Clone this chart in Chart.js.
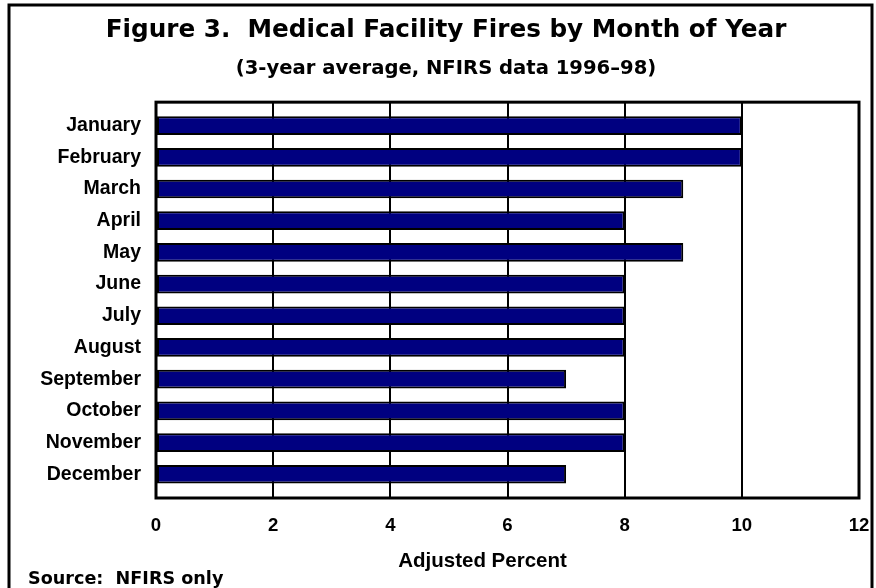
<!DOCTYPE html>
<html>
<head>
<meta charset="utf-8">
<script src="https://cdn.jsdelivr.net/npm/chart.js@4/dist/chart.umd.min.js"></script>
<style>
html,body{margin:0;padding:0;background:#fff;}
#wrap{width:876px;height:588px;position:relative;}
</style>
</head>
<body>
<div id="wrap"><canvas id="c" width="876" height="588"></canvas></div>
<script>
// ---- data ----
const months = ['January','February','March','April','May','June','July','August','September','October','November','December'];
const adjustedPercent = [10, 10, 9, 8, 9, 8, 8, 8, 7, 8, 8, 7];
const xTickValues = [0, 2, 4, 6, 8, 10, 12];
const titleText = 'Figure 3.  Medical Facility Fires by Month of Year';
const subtitleText = '(3-year average, NFIRS data 1996\u201398)';
const xAxisTitle = 'Adjusted Percent';
const sourceNote = 'Source:  NFIRS only';

const FONT = "'Liberation Sans', Arial, Helvetica, sans-serif";
const WIDE = "'DejaVu Sans', 'Liberation Sans', Arial, sans-serif";

const framePlugin = {
  id: 'frame',
  beforeDraw(chart) {
    const ctx = chart.ctx;
    ctx.save();
    ctx.fillStyle = '#ffffff';
    ctx.fillRect(0, 0, chart.width, chart.height);
    ctx.restore();
  },
  afterDatasetsDraw(chart) {
    const {ctx, chartArea: a} = chart;
    ctx.save();
    ctx.strokeStyle = '#000';
    ctx.lineWidth = 3;
    ctx.strokeRect(a.left, a.top, a.right - a.left, a.bottom - a.top);
    ctx.restore();
  },
  afterDraw(chart) {
    const ctx = chart.ctx;
    ctx.save();
    // outer frame
    ctx.strokeStyle = '#000';
    ctx.lineWidth = 3;
    ctx.beginPath();
    ctx.moveTo(9, 600);
    ctx.lineTo(9, 5);
    ctx.lineTo(872, 5);
    ctx.lineTo(872, 600);
    ctx.stroke();
    // axis title
    ctx.fillStyle = '#000';
    ctx.font = 'bold 20.5px ' + FONT;
    ctx.textAlign = 'center';
    ctx.textBaseline = 'alphabetic';
    ctx.fillText(xAxisTitle, 482.5, 566.5);
    // source note
    ctx.font = 'bold 17.6px ' + WIDE;
    ctx.textAlign = 'left';
    ctx.fillText(sourceNote, 28, 584);
    ctx.restore();
  }
};

new Chart(document.getElementById('c'), {
  type: 'bar',
  data: {
    labels: months,
    datasets: [{
      label: 'Adjusted Percent',
      data: adjustedPercent,
      backgroundColor: '#000080',
      borderColor: '#000000',
      borderWidth: 2,
      borderSkipped: false,
      barPercentage: 0.59,
      categoryPercentage: 1.0
    }]
  },
  options: {
    indexAxis: 'y',
    responsive: false,
    animation: false,
    devicePixelRatio: 1,
    layout: { padding: { left: 33, right: 17, top: 0, bottom: 0 } },
    plugins: {
      legend: { display: false },
      tooltip: { enabled: false },
      title: {
        display: true,
        text: titleText,
        color: '#000',
        font: { family: WIDE, size: 24.7, weight: 'bold', lineHeight: 1.2 },
        padding: { top: 16, bottom: 12 }
      },
      subtitle: {
        display: true,
        text: subtitleText,
        color: '#000',
        font: { family: WIDE, size: 19.6, weight: 'bold', lineHeight: 1.2 },
        padding: { top: 0, bottom: 21 }
      }
    },
    scales: {
      x: {
        type: 'linear',
        min: 0,
        max: 12,
        afterBuildTicks: (scale) => { scale.ticks = xTickValues.map(v => ({ value: v })); },
        afterFit: (scale) => { scale.height = 90; scale.paddingRight = 0; scale.paddingLeft = 0; },
        grid: { color: '#000', lineWidth: 2, drawTicks: false },
        border: { display: false },
        ticks: {
          color: '#000',
          padding: 17,
          font: { family: FONT, size: 18.6, weight: 'bold' }
        }
      },
      y: {
        type: 'category',
        afterBuildTicks: (scale) => { scale._startValue = -0.74; scale._valueRange = 12.49; },
        afterFit: (scale) => { scale.width = 123; },
        grid: { display: false, drawTicks: false },
        border: { display: false },
        ticks: {
          color: '#000',
          padding: 15,
          font: { family: FONT, size: 19.5, weight: 'bold' }
        }
      }
    }
  },
  plugins: [framePlugin]
});
</script>
</body>
</html>
